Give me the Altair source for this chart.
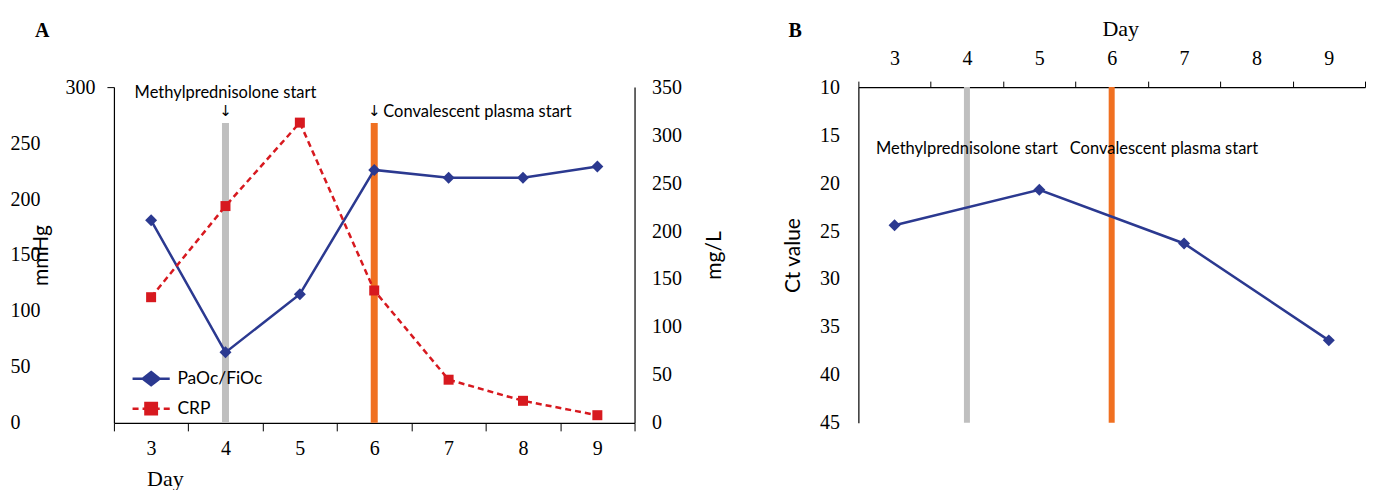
import altair as alt
import pandas as pd

# ---------------- data ----------------
days = [3, 4, 5, 6, 7, 8, 9]
pf_ratio = [181, 63, 115, 226, 219, 219, 229]
crp_values = [131, 226, 313, 138, 45, 23, 8]
ct_days = [3, 5, 7, 9]
ct_values = [24.4, 20.7, 26.3, 36.4]
event_days = [4, 6]
event_names = ["Methylprednisolone start", "Convalescent plasma start"]
series_names = ["PaOc/FiOc", "CRP"]
left_ticks = [0, 50, 100, 150, 200, 250, 300]
right_ticks = [0, 50, 100, 150, 200, 250, 300, 350]
ct_ticks = [10, 15, 20, 25, 30, 35, 40, 45]

pf_df = pd.DataFrame({"day": days, "value": pf_ratio})
crp_df = pd.DataFrame({"day": days, "value": crp_values})
ct_df = pd.DataFrame({"day": ct_days, "value": ct_values})
ev_df = pd.DataFrame({"day": event_days, "event": event_names})
ser_df = pd.DataFrame({"series": series_names})

# ---------------- styles ----------------
SERIF = "Liberation Serif"
SANS = "Lato"
NAVY = "#2b3990"
RED = "#d7191f"
ORANGE = "#f07021"
GRAY = "#bfbfbf"
TICK_FS = 20
TITLE_FS = 21
PLOT_H = 336

x_scale = alt.Scale(type="band", domain=days, paddingInner=0, paddingOuter=0)
ev_color = alt.Color("event:N", scale=alt.Scale(domain=event_names, range=[GRAY, ORANGE]), legend=None)

# ---------------- panel A ----------------
xA_axis = alt.Axis(title="Day", labelAngle=0, tickBand="extent", tickSize=8, labelPadding=8,
                   labelFont=SERIF, labelFontSize=TICK_FS, titleFont=SERIF, titleFontSize=22,
                   titleFontWeight="normal", titleX=51, titleY=56, titleAlign="center",
                   titleBaseline="middle")
xA = alt.X("day:O", scale=x_scale, axis=xA_axis)

yL_scale = alt.Scale(domain=[0, 300], nice=False, zero=True)
yL_axis = alt.Axis(title="mmHg", values=left_ticks, labelAlign="left", labelBaseline="middle",
                   labelPadding={"condition": {"test": "datum.value === 300", "value": 42}, "value": 97},
                   tickSize=7,
                   tickOpacity={"condition": {"test": "datum.value === 300", "value": 1}, "value": 0},
                   labelFont=SERIF, labelFontSize=TICK_FS, titleFont=SANS, titleFontSize=TITLE_FS,
                   titleFontWeight="normal", titleX=-72, titleY=168, titleAngle=270,
                   titleAlign="center", titleBaseline="middle")
yR_scale = alt.Scale(domain=[0, 350], nice=False, zero=True)
yR_axis = alt.Axis(title="mg/L", values=right_ticks, ticks=False, labelPadding=17,
                   labelFont=SERIF, labelFontSize=TICK_FS, titleFont=SANS, titleFontSize=TITLE_FS,
                   titleFontWeight="normal", titleX=80, titleY=168, titleAngle=270,
                   titleAlign="center", titleBaseline="middle")


def yl(v):
    return alt.YDatum(v, scale=yL_scale, axis=yL_axis, type="quantitative")


rulesA = alt.Chart(ev_df).mark_rule(strokeWidth=7).encode(
    x=xA, y=yl(0), y2=alt.Y2Datum(268), color=ev_color)
meth_text = alt.Chart(ev_df).transform_filter("datum.day == 4").mark_text(
    font=SANS, fontSize=16.5, align="center", baseline="middle", color="black").encode(
    x=xA, y=yl(295), text="event:N")
arrow4 = alt.Chart(ev_df).transform_filter("datum.day == 4").mark_text(
    text="↓", font="DejaVu Sans", fontSize=15, align="center", baseline="middle", color="black").encode(
    x=xA, y=yl(279))
conv_text = alt.Chart(ev_df).transform_filter("datum.day == 6").mark_text(
    font=SANS, fontSize=16.5, align="left", baseline="middle", dx=9, color="black").encode(
    x=xA, y=yl(277.5), text="event:N")
arrow6 = alt.Chart(ev_df).transform_filter("datum.day == 6").mark_text(
    text="↓", font="DejaVu Sans", fontSize=15, align="center", baseline="middle", color="black").encode(
    x=xA, y=yl(279))

pf_line = alt.Chart(pf_df).mark_line(color=NAVY, strokeWidth=2.5).encode(
    x=xA, y=alt.Y("value:Q", scale=yL_scale, axis=yL_axis))
pf_pts = alt.Chart(pf_df).mark_point(shape="diamond", filled=True, size=144, color=NAVY, opacity=1).encode(
    x=xA, y=alt.Y("value:Q", scale=yL_scale, axis=yL_axis))

legend_kw = dict(title=None, orient="none", legendX=28.5, legendY=283, symbolSize=144,
                 symbolStrokeWidth=2.5, labelFont=SANS, labelFontSize=17.5, labelColor="black",
                 labelOffset=17.5, rowPadding=7, padding=0, direction="vertical")
legend_paths = [
    "M-3.1,0L3.1,0M0,-1.1L1.4,0L0,1.1L-1.4,0Z",
    "M-3.1,0L-2.1,0M-1.43,0L-0.43,0M0.43,0L1.43,0M2.1,0L3.1,0M-0.95,-0.95L0.95,-0.95L0.95,0.95L-0.95,0.95Z",
]
legend_layer = alt.Chart(ser_df).transform_filter("false").mark_point(
    filled=True, strokeWidth=2.5, opacity=1).encode(
    fill=alt.Fill("series:N", scale=alt.Scale(domain=series_names, range=[NAVY, RED]),
                  legend=alt.Legend(**legend_kw)),
    stroke=alt.Stroke("series:N", scale=alt.Scale(domain=series_names, range=[NAVY, RED]),
                      legend=alt.Legend(**legend_kw)),
    shape=alt.Shape("series:N", scale=alt.Scale(domain=series_names, range=legend_paths),
                    legend=alt.Legend(**legend_kw)),
)

crp_line = alt.Chart(crp_df).mark_line(color=RED, strokeWidth=2.5, strokeDash=[6, 4]).encode(
    x=xA, y=alt.Y("value:Q", scale=yR_scale, axis=yR_axis))
crp_pts = alt.Chart(crp_df).mark_point(shape="square", filled=True, size=100, color=RED, opacity=1).encode(
    x=xA, y=alt.Y("value:Q", scale=yR_scale, axis=yR_axis))

left_group = alt.layer(rulesA, meth_text, arrow4, conv_text, arrow6, pf_line, pf_pts, legend_layer)
right_group = alt.layer(crp_line, crp_pts)

titleA = alt.TitleParams("A", anchor="start", frame="group", dx=-79, offset=36,
                         font=SERIF, fontSize=20, fontWeight="bold", color="black")
panelA = alt.layer(left_group, right_group).resolve_scale(y="independent").properties(
    width=521, height=PLOT_H, title=titleA)

# ---------------- panel B ----------------
B_W = 507
xB_axis = alt.Axis(orient="top", title="Day", labelAngle=0, tickBand="extent", tickSize=6,
                   labelPadding=13, labelFont=SERIF, labelFontSize=TICK_FS, titleFont=SERIF,
                   titleFontSize=22, titleFontWeight="normal", titleX=262, titleY=-59,
                   titleAlign="center", titleBaseline="middle")
xB = alt.X("day:O", scale=x_scale, axis=xB_axis)
yB_scale = alt.Scale(domain=[10, 45], reverse=True, nice=False, zero=False)
yB_axis = alt.Axis(title="Ct value", values=ct_ticks, ticks=False, labelPadding=19,
                   labelFont=SERIF, labelFontSize=TICK_FS, titleFont=SANS, titleFontSize=TITLE_FS,
                   titleFontWeight="normal", titleX=-65, titleY=168, titleAngle=270,
                   titleAlign="center", titleBaseline="middle")


def yb(v):
    return alt.YDatum(v, scale=yB_scale, axis=yB_axis, type="quantitative")


rulesB = alt.Chart(ev_df).mark_rule(strokeWidth=6).encode(
    x=xB, y=yb(10), y2=alt.Y2Datum(45), color=ev_color)
meth_text_B = alt.Chart(ev_df).transform_filter("datum.day == 4").mark_text(
    font=SANS, fontSize=16.5, align="center", baseline="middle", color="black").encode(
    x=xB, y=yb(16.4), text="event:N")
conv_text_B = alt.Chart(ev_df).transform_filter("datum.day == 6").mark_text(
    font=SANS, fontSize=16.5, align="left", baseline="middle", dx=-42, color="black").encode(
    x=xB, y=yb(16.4), text="event:N")
ct_line = alt.Chart(ct_df).mark_line(color=NAVY, strokeWidth=2.5).encode(
    x=xB, y=alt.Y("value:Q", scale=yB_scale, axis=yB_axis))
ct_pts = alt.Chart(ct_df).mark_point(shape="diamond", filled=True, size=144, color=NAVY, opacity=1).encode(
    x=xB, y=alt.Y("value:Q", scale=yB_scale, axis=yB_axis))

titleB = alt.TitleParams("B", anchor="start", frame="group", dx=-70, offset=-23.5,
                         font=SERIF, fontSize=20, fontWeight="bold", color="black")
panelB = alt.layer(rulesB, meth_text_B, conv_text_B, ct_line, ct_pts).properties(
    width=B_W, height=PLOT_H, title=titleB)

chart = alt.hconcat(panelA, panelB, spacing=58).properties(
    padding={"left": 2, "top": 9, "right": 0, "bottom": 0}
).configure_view(stroke=None).configure_axis(
    grid=False, domainColor="black", tickColor="black", labelColor="black", titleColor="black",
    domainWidth=1.2
)

chart.save("out.html", embed_options={"renderer": "svg", "actions": False})
